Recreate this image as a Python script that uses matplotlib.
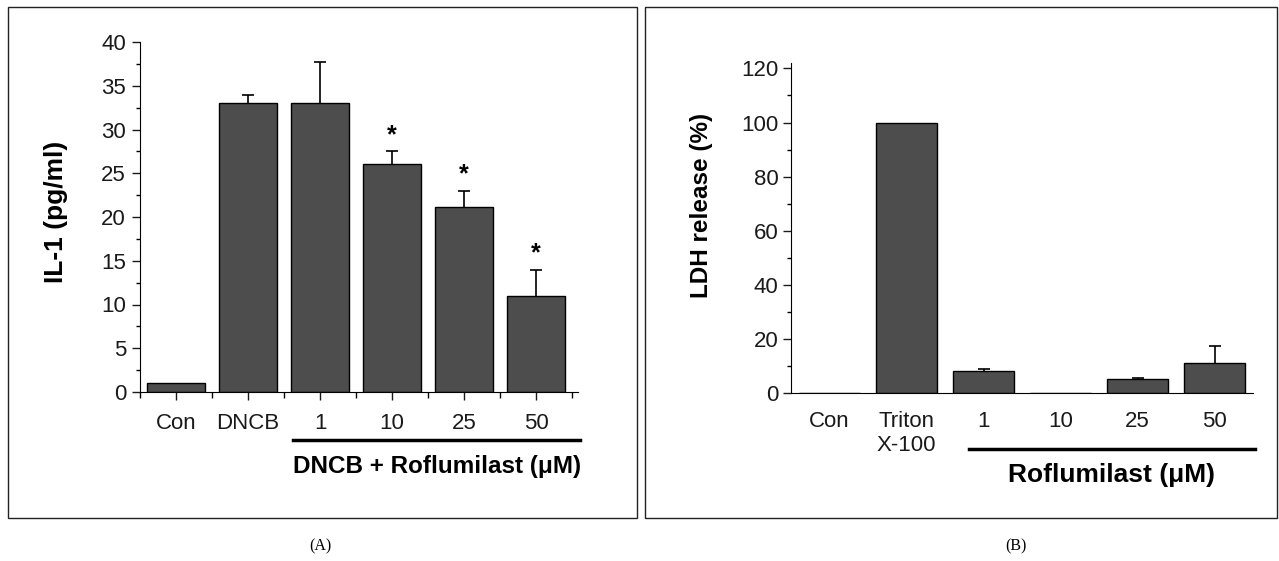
import matplotlib.pyplot as plt
from matplotlib.patches import Rectangle
from matplotlib.lines import Line2D
import numpy as np

plt.rcParams['font.family'] = ['Liberation Sans', 'DejaVu Sans']

# panel A: IL-1
cats_a = ['Con', 'DNCB', '1', '10', '25', '50']
il1 = [1.0, 33.0, 33.0, 26.1, 21.2, 11.0]
il1_err = [0.0, 0.9, 4.7, 1.4, 1.8, 3.0]
il1_star = [False, False, False, True, True, True]

# panel B: LDH
cats_b = ['Con', 'Triton\nX-100', '1', '10', '25', '50']
ldh = [0.0, 100.0, 8.0, 0.0, 5.0, 11.0]
ldh_err = [0.0, 0.0, 0.8, 0.0, 0.6, 6.2]

bar_col = '#4d4d4d'
txt_col = '#1a1a1a'


def upper_err(ax, xs, vals, errs):
    # only bars with an error get a whisker, and only the upper cap
    idx = [i for i, e in enumerate(errs) if e > 0]
    xs = np.asarray(xs)[idx]
    v = np.asarray(vals)[idx]
    e = np.asarray(errs)[idx]
    eb = ax.errorbar(xs, v, yerr=[np.zeros(len(e)), e], fmt='none', ecolor='black',
                     elinewidth=1.2, capsize=4, capthick=1.2, zorder=3)
    eb[1][0].set_visible(False)


fig = plt.figure(figsize=(12.79, 5.61), dpi=100)

# panel frames
fig.add_artist(Rectangle((8/1279, 1-518/561), 629/1279, 511/561, transform=fig.transFigure,
                         fill=False, lw=1.0, ec='#222222'))
fig.add_artist(Rectangle((645/1279, 1-518/561), 632/1279, 511/561, transform=fig.transFigure,
                         fill=False, lw=1.0, ec='#222222'))

# ---- A ----
ax = fig.add_axes([140/1279, 1-392/561, 438/1279, 350/561])
x = np.arange(len(cats_a))
ax.bar(x, il1, width=0.8, color=bar_col, edgecolor='black', linewidth=1.0, zorder=2)
upper_err(ax, x, il1, il1_err)
for xi, v, e, s in zip(x, il1, il1_err, il1_star):
    if s:
        ax.text(xi, v + e + 0.5, '*', ha='center', va='bottom', fontsize=18, fontweight='bold')
ax.set_xlim(-0.5, 5.58)
ax.set_ylim(0, 40)
ax.set_yticks(np.arange(0, 41, 5))
ax.set_yticks(np.arange(2.5, 40, 5), minor=True)
ax.set_xticks(x)
ax.set_xticklabels(cats_a)
ax.set_xticks(np.arange(-0.5, 6, 1), minor=True)
ax.tick_params(axis='y', which='major', direction='out', length=6, width=1, labelsize=16, pad=4, colors=txt_col)
ax.tick_params(axis='y', which='minor', direction='out', length=3, width=1)
ax.tick_params(axis='x', which='major', direction='out', length=6, width=1, labelsize=16, pad=9, colors=txt_col)
ax.tick_params(axis='x', which='minor', direction='out', length=4, width=1)
ax.spines['top'].set_visible(False)
ax.spines['right'].set_visible(False)
ax.set_ylabel('IL-1 (pg/ml)', fontsize=19, fontweight='bold')
ax.yaxis.set_label_coords(-0.164, 0.514)
fig.add_artist(Line2D([293/1279, 580/1279], [1-440/561, 1-440/561], transform=fig.transFigure,
                      color='black', lw=2.5))
fig.text(437/1279, 1-466/561, 'DNCB + Roflumilast (μM)', ha='center', va='center',
         fontsize=17.5, fontweight='bold')
fig.text(320/1279, 1-546/561, '(A)', ha='center', va='center', fontsize=11.5, family='Liberation Serif')

# ---- B ----
bx = fig.add_axes([791/1279, 1-393/561, 462/1279, 330/561])
xb = np.arange(len(cats_b))
bx.bar(xb, ldh, width=0.8, color=bar_col, edgecolor='black', linewidth=1.0, zorder=2)
upper_err(bx, xb, ldh, ldh_err)
bx.set_xlim(-0.5, 5.5)
bx.set_ylim(0, 122)
bx.set_yticks(np.arange(0, 121, 20))
bx.set_yticks(np.arange(10, 120, 20), minor=True)
bx.set_xticks(xb)
bx.set_xticklabels(cats_b)
bx.tick_params(axis='y', which='major', direction='out', length=6, width=1, labelsize=16, pad=3, colors=txt_col)
bx.tick_params(axis='y', which='minor', direction='out', length=3, width=1)
bx.tick_params(axis='x', which='major', length=0, labelsize=16, pad=13, colors=txt_col)
bx.spines['top'].set_visible(False)
bx.spines['right'].set_visible(False)
bx.set_ylabel('LDH release (%)', fontsize=17.5, fontweight='bold')
bx.yaxis.set_label_coords(-0.169, 0.567)
fig.add_artist(Line2D([969/1279, 1255/1279], [1-449/561, 1-449/561], transform=fig.transFigure,
                      color='black', lw=2.5))
fig.text(1112/1279, 1-475/561, 'Roflumilast (μM)', ha='center', va='center',
         fontsize=19, fontweight='bold')
fig.text(1016/1279, 1-546/561, '(B)', ha='center', va='center', fontsize=11.5, family='Liberation Serif')

fig.savefig('out.png', dpi=100)
